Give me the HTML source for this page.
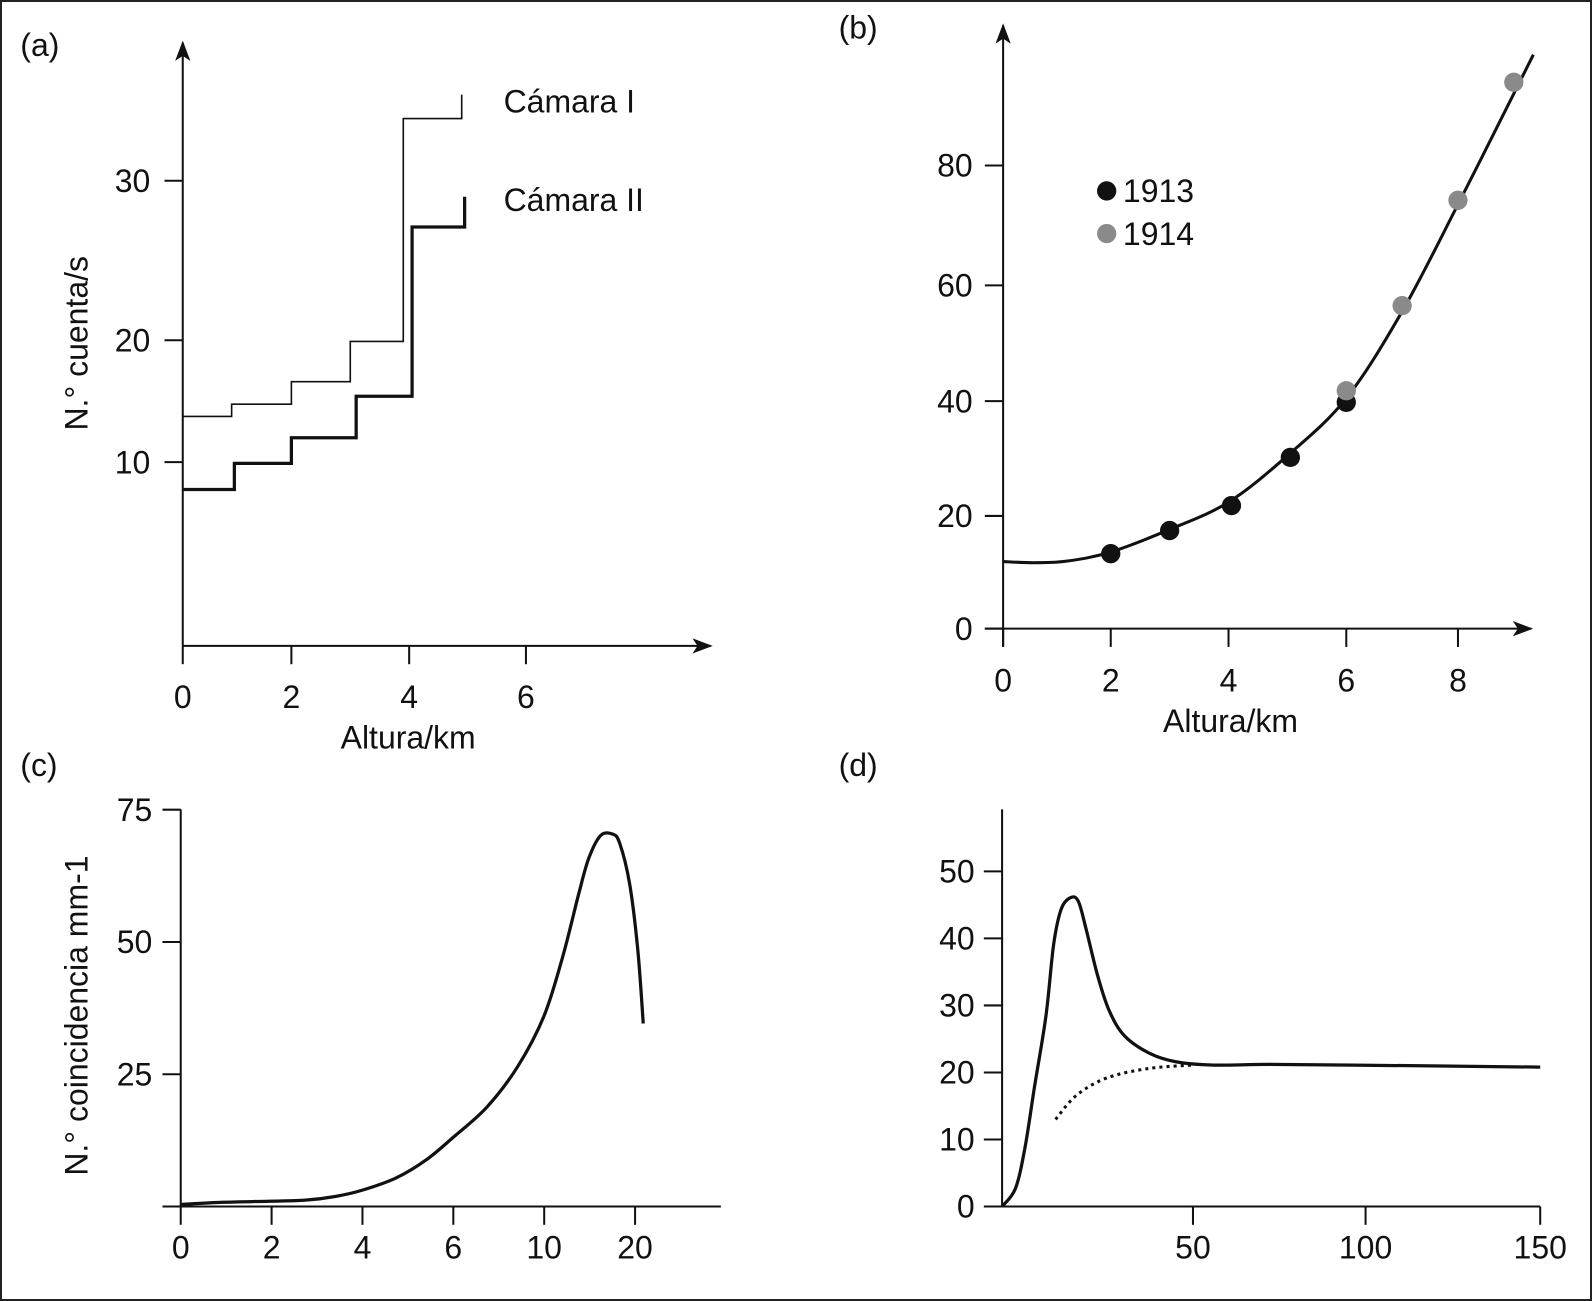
<!DOCTYPE html>
<html><head><meta charset="utf-8">
<style>
html,body{margin:0;padding:0;background:#fff}
svg{display:block;font-family:"Liberation Sans",Arial,sans-serif}
</style></head>
<body>
<svg id="c" width="1592" height="1301" viewBox="0 0 1592 1301" xmlns="http://www.w3.org/2000/svg">
<defs><marker id="ar" markerWidth="20" markerHeight="15" refX="18" refY="7.5" orient="auto" markerUnits="userSpaceOnUse"><path d="M0,0 L20,7.5 L0,15 L5,7.5 Z" fill="#111"/></marker></defs>
<rect x="1" y="1" width="1590" height="1299" fill="#fff" stroke="#222" stroke-width="2"/>
<g id="root" transform="scale(1.0153,1.0156)"></g>
</svg>
<script>
// ---------- Panel (a) data ----------
const aXTicks=[0,2,4,6];
const aYTicks=[10,20,30];
const camIx=[0,0.9,2,3,3.9,4.9];
const camIy=[13.75,14.75,16.6,19.9,33.9,35.4];
const camIIx=[0,0.95,2,3.1,4.05,4.95];
const camIIy=[7.75,9.9,12,15.4,27.1,29.0];
// ---------- Panel (b) data ----------
const bXTicks=[0,2,4,6,8];
const bYTicks=[0,20,40,60,80];
const p1913x=[2,3,4.05,5.05,6];
const p1913y=[13.3,17.4,21.8,30.2,39.8];
const p1914x=[6,7,8,9];
const p1914y=[41.8,56.5,74.2,93.9];
const fitX=[0,0.6,1.2,2,3,4,5,6,7,8,9,9.35];
const fitY=[11.9,11.7,12.0,13.6,17.6,22.4,30.5,40.5,55.5,73.5,92,98.5];
// ---------- Panel (c) data ----------
const cXTicks=["0","2","4","6","10","20"];
const cYTicks=[0,25,50,75];
const cCurveU=[0,0.47,0.97,1.37,1.70,2.0,2.37,2.70,3.0,3.37,3.71,4.0,4.21,4.38,4.49,4.62,4.75,4.83,4.94,5.03,5.09];
const cCurveV=[0.4,0.8,1.0,1.2,1.9,3.1,5.4,8.8,13.1,18.8,26.5,36.1,47.6,59.1,65.8,70.1,70.4,68.7,61.0,48.5,34.6];
// ---------- Panel (d) data ----------
const dXTicks=[50,100,150];
const dYTicks=[0,10,20,30,40,50];
const dSolidX=[0,3.5,6,8.5,11.5,13.5,15.5,18,20,22,25,28,32,38.5,45.5,56,72,96.5,150];
const dSolidY=[0,2.7,8.8,17.9,28.5,39.1,44.4,46.1,45.5,41.4,34.5,29.3,25.5,22.9,21.6,21.1,21.2,21.1,20.8];
const dDotX=[14,19.5,27.5,38.5,50];
const dDotY=[13.0,16.6,19.2,20.6,21.1];

const svg=document.getElementById('root');
const NS='http://www.w3.org/2000/svg';
const FS=31.5;
function el(tag,attrs,parent){const e=document.createElementNS(NS,tag);for(const k in attrs)e.setAttribute(k,attrs[k]);(parent||svg).appendChild(e);return e;}
function txt(x,y,s,anchor,size,parent,fill){const t=el('text',{x:x,y:y,'font-size':size||FS,'text-anchor':anchor||'middle',fill:fill||'#111'},parent);t.textContent=s;return t;}
function pw(vs,ps){return v=>{let i=0;while(i<vs.length-2&&v>vs[i+1])i++;return ps[i]+(v-vs[i])*(ps[i+1]-ps[i])/(vs[i+1]-vs[i]);};}
function smooth(pts){let d='M'+pts[0][0]+','+pts[0][1];for(let i=0;i<pts.length-1;i++){const p0=pts[Math.max(0,i-1)],p1=pts[i],p2=pts[i+1],p3=pts[Math.min(pts.length-1,i+2)];const c1=[p1[0]+(p2[0]-p0[0])/6,p1[1]+(p2[1]-p0[1])/6],c2=[p2[0]-(p3[0]-p1[0])/6,p2[1]-(p3[1]-p1[1])/6];d+=` C${c1[0]},${c1[1]} ${c2[0]},${c2[1]} ${p2[0]},${p2[1]}`;}return d;}
const TL=18;

// ===== Panel (a) =====
{
const g=el('g',{});


const X=pw([0,2,4,6],[180,287,403,518]);
const Y=pw([7,10,20,30,40],[491,455,335,178,21]);
txt(20,55,'(a)','start',FS,g);
const ya=el('line',{x1:180,y1:636,x2:180,y2:42,stroke:'#111','stroke-width':2,'marker-end':'url(#ar)'},g);


const xa=el('line',{x1:180,y1:636,x2:700,y2:636,stroke:'#111','stroke-width':2,'marker-end':'url(#ar)'},g);


aXTicks.forEach(v=>{el('line',{x1:X(v),y1:636,x2:X(v),y2:636+TL,stroke:'#111','stroke-width':2},g);const t=txt(X(v),697,String(v),'middle',FS,g);});
aYTicks.forEach(v=>{el('line',{x1:180-TL,y1:Y(v),x2:180,y2:Y(v),stroke:'#111','stroke-width':2},g);const t=txt(148,Y(v)+11,String(v),'end',FS,g);});
const yt=txt(0,0,'N.° cuenta/s','middle',FS,g);yt.setAttribute('transform','translate(86,338) rotate(-90)');


const xt=txt(402,737,'Altura/km','middle',FS,g);


function step(xs,ys,endX){let d=`M${X(xs[0])},${Y(ys[0])}`;for(let i=0;i<xs.length;i++){const nx=i<xs.length-1?xs[i+1]:endX;d+=` L${X(nx)},${Y(ys[i])}`;if(i<xs.length-1)d+=` L${X(nx)},${Y(ys[i+1])}`;}return d;}
const s1=el('path',{d:step(camIx.slice(0,5),camIy.slice(0,5),camIx[5])+` L${X(camIx[5])},${Y(camIy[5])}`,fill:'none',stroke:'#111','stroke-width':1.6},g);


const s2=el('path',{d:step(camIIx.slice(0,5),camIIy.slice(0,5),camIIx[5])+` L${X(camIIx[5])},${Y(camIIy[5])}`,fill:'none',stroke:'#111','stroke-width':3.2},g);


const l1=txt(496,111,'Cámara I','start',FS,g);
const l2=txt(496,208,'Cámara II','start',FS,g);
}

// ===== Panel (b) =====
{
const g=el('g',{});


const X=pw([0,2,4,6,8],[988,1094,1210,1326,1436]);
const Y=pw([0,20,40,60,80],[619,508,395,281,163]);
txt(826,38,'(b)','start',FS,g);
const ya=el('line',{x1:988,y1:619+TL,x2:988,y2:25,stroke:'#111','stroke-width':2,'marker-end':'url(#ar)'},g);


const xa=el('line',{x1:988-TL,y1:619,x2:1508,y2:619,stroke:'#111','stroke-width':2,'marker-end':'url(#ar)'},g);


bXTicks.forEach(v=>{el('line',{x1:X(v),y1:619,x2:X(v),y2:619+TL,stroke:'#111','stroke-width':2},g);const t=txt(X(v),681,String(v),'middle',FS,g);});
bYTicks.forEach(v=>{el('line',{x1:988-TL,y1:Y(v),x2:988,y2:Y(v),stroke:'#111','stroke-width':2},g);const t=txt(958,Y(v)+11,String(v),'end',FS,g);});
const xt=txt(1212,721,'Altura/km','middle',FS,g);


const fit=el('path',{d:smooth(fitX.map((x,i)=>[X(x),Y(fitY[i])])),fill:'none',stroke:'#111','stroke-width':3},g);


p1913x.forEach((x,i)=>{const c=el('circle',{cx:X(x),cy:Y(p1913y[i]),r:9.5,fill:'#111'},g);});
p1914x.forEach((x,i)=>{const c=el('circle',{cx:X(x),cy:Y(p1914y[i]),r:9.5,fill:'#8a8a8a'},g);});
const le1=el('circle',{cx:1090,cy:188,r:9.5,fill:'#111'},g);
const lt1=txt(1106,199,'1913','start',FS,g);
const le2=el('circle',{cx:1090,cy:230,r:9.5,fill:'#8a8a8a'},g);
const lt2=txt(1106,241,'1914','start',FS,g);
}

// ===== Panel (c) =====
{
const g=el('g',{});


const X=u=>178+u*89.5;
const Y=v=>1188-v*5.21;
txt(20,764,'(c)','start',FS,g);
const ax=el('path',{d:'M178,797 L178,1188 L710,1188',fill:'none',stroke:'#111','stroke-width':2},g);


cXTicks.forEach((s,i)=>{el('line',{x1:X(i),y1:1188,x2:X(i),y2:1188+TL,stroke:'#111','stroke-width':2},g);const t=txt(X(i),1239,s,'middle',FS,g);});
cYTicks.forEach(v=>{el('line',{x1:178-TL,y1:Y(v),x2:178,y2:Y(v),stroke:'#111','stroke-width':2},g);if(v>0){const t=txt(150,Y(v)+11,String(v),'end',FS,g);}});
const yt=txt(0,0,'N.° coincidencia mm-1','middle',FS,g);yt.setAttribute('transform','translate(86,1000) rotate(-90)');


const cv=el('path',{d:smooth(cCurveU.map((u,i)=>[X(u),Y(cCurveV[i])])),fill:'none',stroke:'#111','stroke-width':3.2},g);


}

// ===== Panel (d) =====
{
const g=el('g',{});


const X=pw([0,50,100,150],[987,1175,1345,1517]);
const Y=v=>1188-v*6.6;
txt(826,764,'(d)','start',FS,g);
const ax=el('path',{d:'M987,797 L987,1188 L1517,1188',fill:'none',stroke:'#111','stroke-width':2},g);


dXTicks.forEach(v=>{el('line',{x1:X(v),y1:1188,x2:X(v),y2:1188+TL,stroke:'#111','stroke-width':2},g);const t=txt(X(v),1239,String(v),'middle',FS,g);});
dYTicks.forEach(v=>{el('line',{x1:987-TL,y1:Y(v),x2:987,y2:Y(v),stroke:'#111','stroke-width':2},g);const t=txt(960,Y(v)+11,String(v),'end',FS,g);});
const sv=el('path',{d:smooth(dSolidX.map((x,i)=>[X(x),Y(dSolidY[i])])),fill:'none',stroke:'#111','stroke-width':3.2},g);


const dv=el('path',{d:smooth(dDotX.map((x,i)=>[X(x),Y(dDotY[i])])),fill:'none',stroke:'#111','stroke-width':3,'stroke-dasharray':'3,4'},g);


}
</script>
</body></html>
